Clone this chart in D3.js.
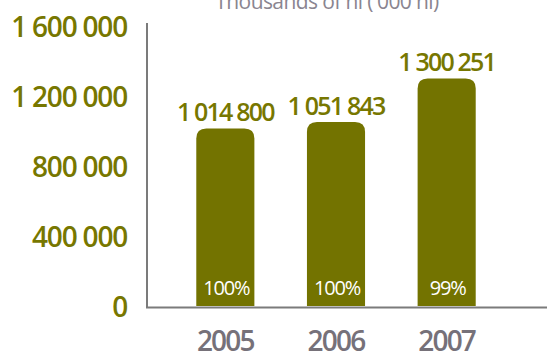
<!DOCTYPE html>
<html><head><meta charset="utf-8">
<script src="https://cdn.jsdelivr.net/npm/d3@7"></script>
<style>
html,body{margin:0;padding:0;background:#fff;}
svg{display:block;font-family:"Open Sans",sans-serif;}
</style></head>
<body>
<script>
const years = ["2005","2006","2007"];
const volumes = [1014800, 1051843, 1300251];
const valueLabels = ["1 014 800","1 051 843","1 300 251"];
const shares = ["100%","100%","99%"];
const yTicks = [0, 400000, 800000, 1200000, 1600000];
const yTickLabels = ["0","400 000","800 000","1 200 000","1 600 000"];
const unitTitle = "Thousands of hl ('000 hl)";

const W = 547, H = 354;
const olive = "#737300", oliveText = "#777700", grey = "#767179", axisGrey = "#7b7b7b";

const svg = d3.select("body").append("svg").attr("width", W).attr("height", H);

const x = d3.scaleBand().domain(years).range([170, 502]).paddingInner(0.475).paddingOuter(0.2375);
const y = d3.scaleLinear().domain([0, 1600000]).range([306, 26]);

// title (cut off at top, as in the reference)
svg.append("text").attr("x", 327).attr("y", 9).attr("text-anchor", "middle")
  .attr("fill", "#8a8590").attr("font-size", 21).attr("letter-spacing", -0.6).text(unitTitle);

// bars with rounded top corners
const r = 10;
svg.append("g").selectAll("path").data(years).join("path")
  .attr("fill", olive)
  .attr("d", (d, i) => {
    const x0 = x(d), x1 = x(d) + x.bandwidth(), yt = y(volumes[i]), yb = y(0);
    return `M${x0},${yb}V${yt + r}Q${x0},${yt} ${x0 + r},${yt}H${x1 - r}Q${x1},${yt} ${x1},${yt + r}V${yb}Z`;
  });

// y axis labels
const yAxis = d3.axisLeft(y).tickValues(yTicks).tickSize(0).tickFormat((d, i) => yTickLabels[i]).tickPadding(20);
const gy = svg.append("g").attr("transform", "translate(147,0)").call(yAxis);
gy.select(".domain").remove();
gy.selectAll("text").attr("fill", oliveText).attr("font-size", 28).attr("font-weight", 600)
  .attr("letter-spacing", -1.2).attr("font-family", "'Open Sans',sans-serif").attr("dy", "0.36em");

// axis lines
svg.append("line").attr("x1", 147).attr("x2", 147).attr("y1", 23).attr("y2", 308)
  .attr("stroke", axisGrey).attr("stroke-width", 2);
svg.append("line").attr("x1", 146).attr("x2", W).attr("y1", 307.5).attr("y2", 307.5)
  .attr("stroke", axisGrey).attr("stroke-width", 2);

// x axis labels
const xAxis = d3.axisBottom(x).tickSize(0).tickPadding(24);
const gx = svg.append("g").attr("transform", "translate(0,307)").call(xAxis);
gx.select(".domain").remove();
gx.selectAll("text").attr("fill", grey).attr("font-size", 28).attr("font-weight", 600)
  .attr("letter-spacing", -1.8).attr("font-family", "'Open Sans',sans-serif");

// value labels above bars
svg.append("g").selectAll("text").data(years).join("text")
  .attr("x", d => x(d) + x.bandwidth() / 2)
  .attr("y", (d, i) => y(volumes[i]) - 7)
  .attr("text-anchor", "middle").attr("fill", oliveText)
  .attr("font-size", 25).attr("font-weight", 600).attr("letter-spacing", -1.8)
  .text((d, i) => valueLabels[i]);

// share labels inside bars
svg.append("g").selectAll("text").data(years).join("text")
  .attr("x", d => x(d) + x.bandwidth() / 2 + 1)
  .attr("y", 295)
  .attr("text-anchor", "middle").attr("fill", "#ffffff")
  .attr("font-size", 20).attr("font-weight", 400).attr("letter-spacing", -1.2)
  .text((d, i) => shares[i]);
</script>
</body></html>
